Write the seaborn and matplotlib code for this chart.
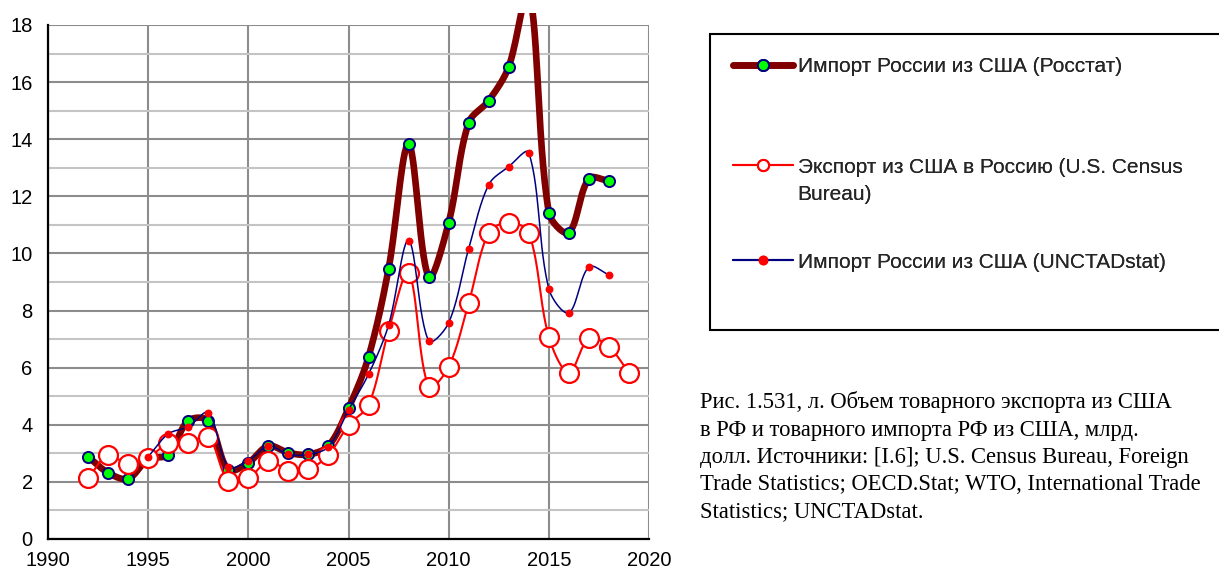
import numpy as np
import matplotlib
matplotlib.use("Agg")
import matplotlib.pyplot as plt
import seaborn as sns
from matplotlib.lines import Line2D
from matplotlib.patches import Rectangle
from matplotlib.ticker import MultipleLocator

# ---------------- data ----------------
years_rosstat = [1992, 1993, 1994, 1995, 1996, 1997, 1998, 1999, 2000, 2001, 2002, 2003,
                 2004, 2005, 2006, 2007, 2008, 2009, 2010, 2011, 2012, 2013, 2014, 2015,
                 2016, 2017, 2018]
rosstat = [2.88, 2.32, 2.11, 2.80, 2.95, 4.14, 4.14, 2.42, 2.67, 3.26, 3.02, 2.96,
           3.26, 4.58, 6.38, 9.46, 13.82, 9.18, 11.08, 14.58, 15.35, 16.54, 19.2, 11.43,
           10.73, 12.62, 12.54]

years_census = [1992, 1993, 1994, 1995, 1996, 1997, 1998, 1999, 2000, 2001, 2002, 2003,
                2004, 2005, 2006, 2007, 2008, 2009, 2010, 2011, 2012, 2013, 2014, 2015,
                2016, 2017, 2018, 2019]
census = [2.12, 2.94, 2.61, 2.85, 3.35, 3.37, 3.58, 2.04, 2.12, 2.74, 2.39, 2.44,
          2.94, 3.99, 4.69, 7.29, 9.33, 5.33, 6.03, 8.27, 10.73, 11.08, 10.73, 7.08,
          5.82, 7.03, 6.73, 5.82]

years_unctad = [1995, 1996, 1997, 1998, 1999, 2000, 2001, 2002, 2003, 2004, 2005, 2006,
                2007, 2008, 2009, 2010, 2011, 2012, 2013, 2014, 2015, 2016, 2017, 2018]
unctad = [2.88, 3.68, 3.93, 4.42, 2.53, 2.74, 3.26, 2.96, 2.96, 3.23, 4.52, 5.77,
          7.49, 10.45, 6.94, 7.57, 10.17, 12.41, 13.04, 13.53, 8.76, 7.92, 9.53, 9.25]

label_rosstat = "Импорт России из США (Росстат)"
label_census = "Экспорт из США в Россию (U.S. Census\nBureau)"
label_unctad = "Импорт России из США (UNCTADstat)"

caption_lines = [
    "Рис. 1.531, л. Объем товарного экспорта из США",
    "в РФ и товарного импорта РФ из США, млрд.",
    "долл. Источники: [I.6]; U.S. Census Bureau, Foreign",
    "Trade Statistics; OECD.Stat; WTO, International Trade",
    "Statistics; UNCTADstat.",
]

x_ticks = [1990, 1995, 2000, 2005, 2010, 2015, 2020]
y_ticks = [0, 2, 4, 6, 8, 10, 12, 14, 16, 18]

# screen scale (pixels per data unit) used for Excel-like smoothing
SX, SY = 20.03, 28.56


def smooth(x, y, n=30):
    """Excel-like smoothed line: cubic Bezier through the points, with
    control-point lengths scaled by neighbouring segment lengths."""
    pts = np.column_stack([np.asarray(x, float), np.asarray(y, float)])
    P = np.vstack([pts[0], pts, pts[-1]])
    scale = np.array([SX, SY])

    def dist(a, b):
        return float(np.hypot(*((b - a) * scale)))

    segs = []
    t = np.linspace(0, 1, n, endpoint=False)[:, None]
    for i in range(1, len(P) - 2):
        p0, p1, p2, p3 = P[i - 1], P[i], P[i + 1], P[i + 2]
        d01, d12, d23 = dist(p0, p1), dist(p1, p2), dist(p2, p3)
        f1 = d12 / (d01 + d12) / 3.0 if d01 + d12 > 0 else 1 / 3.0
        f2 = d12 / (d12 + d23) / 3.0 if d12 + d23 > 0 else 1 / 3.0
        c1 = p1 + (p2 - p0) * f1
        c2 = p2 - (p3 - p1) * f2
        seg = ((1 - t) ** 3) * p1 + 3 * ((1 - t) ** 2) * t * c1 + 3 * (1 - t) * t ** 2 * c2 + t ** 3 * p2
        segs.append(seg)
    segs.append(pts[-1:])
    s = np.vstack(segs)
    return s[:, 0], s[:, 1]


# ---------------- figure ----------------
sns.set_theme(style="white")
plt.rcParams["font.family"] = ["Liberation Sans", "DejaVu Sans"]

W, H = 1219, 574
fig = plt.figure(figsize=(W / 100, H / 100), dpi=100)
ax = fig.add_axes([48 / W, 1 - 539 / H, (649 - 48) / W, (539 - 25) / H])

BROWN = "#800000"
RED = "#ff0000"
NAVY = "#000080"
GREEN = "#00ff00"

# Rosstat
xs, ys = smooth(years_rosstat, rosstat)
sns.lineplot(x=xs, y=ys, ax=ax, color=BROWN, linewidth=4.8, sort=False,
             estimator=None, zorder=3)
ros_line = ax.lines[-1]
ros_line.set_solid_capstyle("round")
ros_line.set_solid_joinstyle("round")
clip = Rectangle((1985, -5), 40, 5 + 18.42, transform=ax.transData)
ros_line.set_clip_path(clip)
sns.scatterplot(x=years_rosstat, y=rosstat, ax=ax, color=GREEN, edgecolor=NAVY,
                linewidth=1.4, s=64, zorder=4)

# Census
xs, ys = smooth(years_census, census)
sns.lineplot(x=xs, y=ys, ax=ax, color=RED, linewidth=1.5, sort=False,
             estimator=None, zorder=5)
sns.scatterplot(x=years_census, y=census, ax=ax, color="white", edgecolor=RED,
                linewidth=1.6, s=185, zorder=6)

# UNCTAD
xs, ys = smooth(years_unctad, unctad)
sns.lineplot(x=xs, y=ys, ax=ax, color=NAVY, linewidth=1.1, sort=False,
             estimator=None, zorder=7)
sns.scatterplot(x=years_unctad, y=unctad, ax=ax, color=RED, edgecolor=RED,
                linewidth=0, s=32, zorder=8)

# axes styling
ax.set_xlim(1990, 2020)
ax.set_ylim(0, 18)
ax.set_xticks(x_ticks)
ax.set_yticks(y_ticks)
ax.yaxis.set_minor_locator(MultipleLocator(1))
ax.grid(which="major", axis="both", color="#8c8c8c", linewidth=1.5, zorder=0)
ax.grid(which="minor", axis="y", color="#c4c4c4", linewidth=1.5, zorder=0)
ax.set_axisbelow(True)
for side in ("top", "right"):
    ax.spines[side].set_visible(False)
for side in ("left", "bottom"):
    ax.spines[side].set_color("black")
    ax.spines[side].set_linewidth(1.6)
    ax.spines[side].set_zorder(2.5)
ax.tick_params(axis="both", which="major", direction="out", length=5, width=1.3,
               color="black", labelsize=14.5, labelcolor="black")
ax.tick_params(axis="y", which="major", pad=6)
ax.tick_params(axis="x", which="major", pad=4)
ax.tick_params(axis="y", which="minor", length=0)
ax.set_xlabel("")
ax.set_ylabel("")
if ax.get_legend() is not None:
    ax.get_legend().remove()

# ---------------- legend ----------------
frame = Rectangle((710 / W, 1 - 330 / H), (1240 - 710) / W, (330 - 34) / H,
                  transform=fig.transFigure, facecolor="white", edgecolor="black",
                  linewidth=1.5, zorder=0)
fig.add_artist(frame)

h_ros = Line2D([], [], color=BROWN, lw=4.8, solid_capstyle="round", marker="o",
               markerfacecolor=GREEN, markeredgecolor=NAVY, markersize=8, markeredgewidth=1.4)
h_cen = Line2D([], [], color=RED, lw=1.5, marker="o", markerfacecolor="white",
               markeredgecolor=RED, markersize=8, markeredgewidth=1.5)
h_unc = Line2D([], [], color=NAVY, lw=1.5, marker="o", markerfacecolor=RED,
               markeredgecolor=RED, markersize=6)

LEG_FS = 15
entries = [(h_ros, label_rosstat, 67, "center left"),
           (h_cen, label_census, 158, "upper left"),
           (h_unc, label_unctad, 262, "center left")]
for h, lab, yc, loc in entries:
    leg = fig.legend(handles=[h], labels=[lab], loc=loc,
                     bbox_to_anchor=(733 / W, 1 - yc / H), frameon=False,
                     borderpad=0, borderaxespad=0, handlelength=2.9,
                     handletextpad=0.2, fontsize=LEG_FS)
    for t in leg.get_texts():
        t.set_linespacing(1.55)
    if "\n" in lab:
        try:
            for col in leg._legend_handle_box.get_children():
                for item in col.get_children():
                    item.align = "top"
        except Exception:
            pass
    fig.add_artist(leg)

# ---------------- caption ----------------
baselines = [408, 436, 463, 490, 517]
for txt, yb in zip(caption_lines, baselines):
    fig.text(700 / W, 1 - yb / H, txt, family=["Liberation Serif", "DejaVu Serif"],
             fontsize=16.3, va="baseline", ha="left", color="black")

fig.savefig("out.png", dpi=100)
